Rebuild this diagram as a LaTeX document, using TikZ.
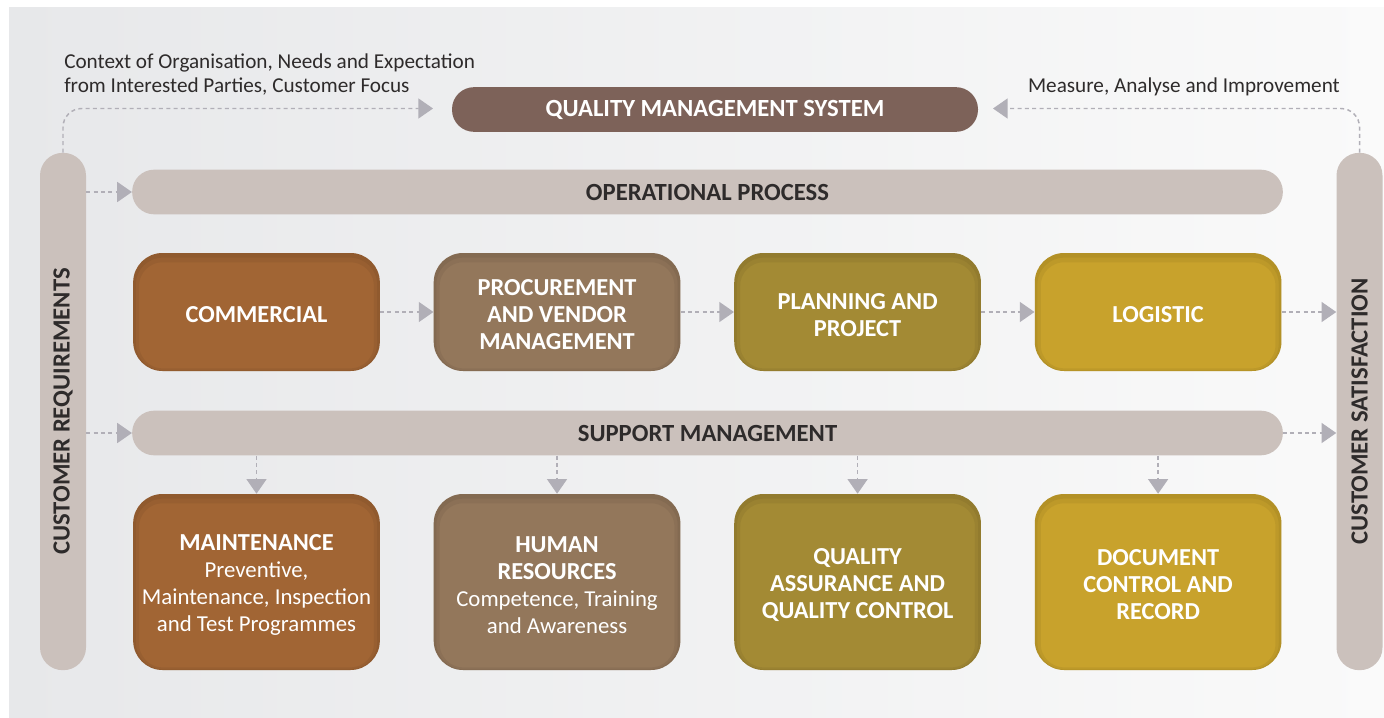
\documentclass[tikz,border=0pt]{standalone}
\usepackage{fontspec}
\setmainfont{Carlito}
\usetikzlibrary{positioning,arrows.meta}

\definecolor{qmsbrown}{HTML}{7D6259}
\definecolor{barbeige}{HTML}{CBC1BC}
\definecolor{commcol}{HTML}{A16534}
\definecolor{proccol}{HTML}{93775B}
\definecolor{plancol}{HTML}{A38A34}
\definecolor{logcol}{HTML}{C8A22C}
\definecolor{arrgray}{HTML}{B1AFB7}
\definecolor{textdark}{HTML}{2E2B2B}
\definecolor{bgleft}{HTML}{E7E8EA}
\definecolor{bgright}{HTML}{FAFAFA}
\newcommand\subtxt{\mdseries\fontsize{17.1}{20.25}\selectfont}

\begin{document}
\begin{tikzpicture}[x=0.75pt, y=-0.75pt,
  bar/.style={rounded corners=16.5pt, fill=barbeige, text=textdark, inner sep=0pt,
              font=\bfseries\fontsize{18.5}{20}\selectfont, minimum height=33.5pt, minimum width=863pt},
  sidebar/.style={bar, minimum width=34.5pt, minimum height=388pt, rounded corners=17pt},
  qmsbar/.style={bar, fill=qmsbrown, text=white, minimum width=394.5pt},
  box/.style={rounded corners=22pt, text=white, align=center, inner sep=2pt,
              font=\bfseries\fontsize{18.3}{20.25}\selectfont, minimum width=185pt, minimum height=88.5pt,
              execute at begin node={\vbox\bgroup\vskip4.5pt\hbox\bgroup},
              execute at end node={\egroup\egroup},
              path picture={
                \draw[black, opacity=0.05, line width=9pt, rounded corners=22pt]
                  ([yshift=-2.5pt]path picture bounding box.south west) rectangle
                  ([yshift=-2.5pt]path picture bounding box.north east);
                \draw[black, opacity=0.05, line width=4pt, rounded corners=22pt]
                  ([yshift=-1.5pt]path picture bounding box.south west) rectangle
                  ([yshift=-1.5pt]path picture bounding box.north east);}},
  tallbox/.style={box, minimum height=132pt},
  ar/.style={draw=arrgray, line width=1.1pt, dash pattern=on 3pt off 2.5pt,
             -{Triangle[length=11pt, width=15pt, fill=arrgray, sep=0pt]}},
  note/.style={text=textdark, align=left, inner sep=0pt, font=\fontsize{15.9}{18}\selectfont}
]
% background
\useasboundingbox (0,0) rectangle (1384,717);
\shade[left color=bgleft, right color=bgright] (9,8) rectangle (1384,717);

\node[qmsbar] (qms) at (715,109.5) {QUALITY MANAGEMENT SYSTEM};
\node[bar] (op) at (707.5,192) {OPERATIONAL PROCESS};
\node[sidebar] (cr) at (63,411.5) {\rotatebox{90}{CUSTOMER REQUIREMENTS}};
\node[sidebar] (cs) at (1359.5,411.5) {\rotatebox{90}{CUSTOMER SATISFACTION}};

% operational row
\node[box, fill=commcol] (comm) at (256.5,312) {COMMERCIAL};
\node[box, fill=proccol, right=40pt of comm] (proc) {PROCUREMENT\\AND VENDOR\\MANAGEMENT};
\node[box, fill=plancol, right=40pt of proc] (plan) {PLANNING AND\\PROJECT};
\node[box, fill=logcol, right=40pt of plan] (log) {LOGISTIC};

\node[bar] (sup) at (707.5,433) {SUPPORT MANAGEMENT};

% support row
\node[tallbox, fill=commcol] (mnt) at (256.5,582)
  {MAINTENANCE\\{\subtxt Preventive,}\\{\subtxt Maintenance, Inspection}\\{\subtxt and Test Programmes}};
\node[tallbox, fill=proccol, right=40pt of mnt] (hr)
  {HUMAN\\RESOURCES\\{\subtxt Competence, Training}\\{\subtxt and Awareness}};
\node[tallbox, fill=plancol, right=40pt of hr] (qa) {QUALITY\\ASSURANCE AND\\QUALITY CONTROL};
\node[tallbox, fill=logcol, right=40pt of qa] (doc) {DOCUMENT\\CONTROL AND\\RECORD};

\node[note, anchor=north west] (ctx) at (64,54)
  {Context of Organisation, Needs and Expectation\\from Interested Parties, Customer Focus};
\node[note, anchor=east] (mai) at (1340,87) {Measure, Analyse and Improvement};

\coordinate (qin) at (433,108.5);
\coordinate (qout) at (993,108.5);

\draw[ar, rounded corners=14pt] (cr.north) |- (qin);
\draw[ar, rounded corners=14pt] (cs.north) |- (qout);
\draw[ar] (cr.east |- op.west) -- (op.west);
\draw[ar] (cr.east |- sup.west) -- (sup.west);
\draw[ar] (comm) -- (proc);
\draw[ar] (proc) -- (plan);
\draw[ar] (plan) -- (log);
\draw[ar] (log.east) -- (log.east -| cs.west);
\draw[ar] (sup.east) -- (sup.east -| cs.west);
\foreach \b in {mnt,hr,qa,doc}
  \draw[ar] (sup.south -| \b.north) -- (\b.north);
\end{tikzpicture}
\end{document}
